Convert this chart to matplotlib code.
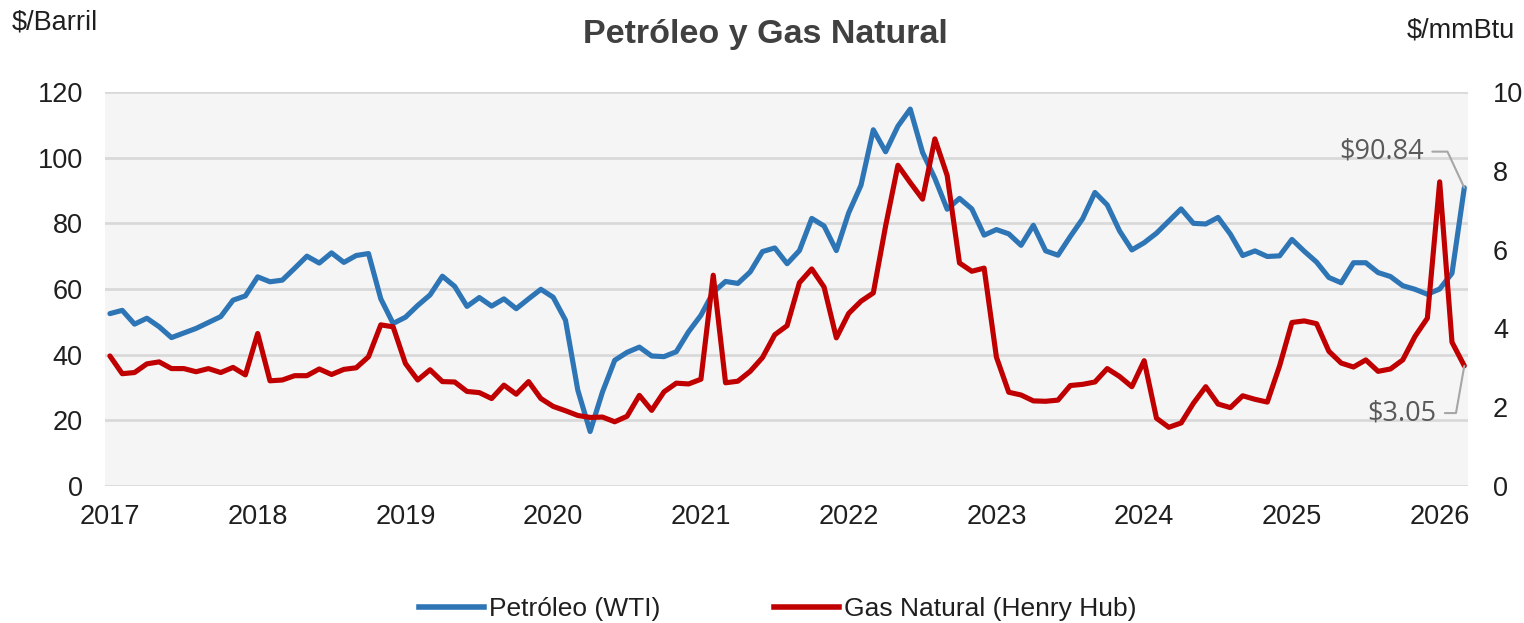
import matplotlib
matplotlib.use("Agg")
import matplotlib.pyplot as plt
from matplotlib.lines import Line2D

plt.rcParams['font.family'] = ['Liberation Sans', 'DejaVu Sans']

# ---------------- data (monthly, Jan 2017 - Mar 2026) ----------------
years = ['2017', '2018', '2019', '2020', '2021', '2022', '2023', '2024', '2025', '2026']

wti = [
    52.5, 53.5, 49.3, 51.1, 48.5, 45.2, 46.6, 48.0, 49.8, 51.6, 56.6, 57.9,   # 2017
    63.7, 62.2, 62.7, 66.3, 70.0, 67.9, 71.0, 68.1, 70.2, 70.8, 57.0, 49.5,   # 2018
    51.4, 55.0, 58.2, 63.9, 60.8, 54.7, 57.4, 54.8, 57.0, 54.0, 57.0, 59.9,   # 2019
    57.5, 50.5, 29.2, 16.6, 28.6, 38.3, 40.7, 42.3, 39.6, 39.4, 40.9, 47.0,   # 2020
    52.0, 59.0, 62.3, 61.7, 65.2, 71.4, 72.5, 67.7, 71.7, 81.5, 79.2, 71.7,   # 2021
    83.2, 91.6, 108.5, 101.8, 109.6, 114.8, 101.6, 93.7, 84.3, 87.6, 84.4, 76.4,  # 2022
    78.1, 76.8, 73.3, 79.4, 71.6, 70.3, 76.0, 81.4, 89.4, 85.6, 77.7, 71.9,   # 2023
    74.1, 77.0, 80.7, 84.4, 80.0, 79.8, 81.8, 76.7, 70.2, 71.6, 69.9, 70.1,   # 2024
    75.1, 71.5, 68.2, 63.5, 61.9, 68.0, 68.0, 65.0, 63.8, 61.0, 59.9, 58.4,   # 2025
    60.0, 64.8, 90.84,                                                        # 2026
]

henry_hub = [
    3.30, 2.85, 2.88, 3.10, 3.15, 2.98, 2.98, 2.90, 2.98, 2.88, 3.01, 2.82,   # 2017
    3.87, 2.67, 2.69, 2.80, 2.80, 2.97, 2.83, 2.96, 3.00, 3.28, 4.09, 4.04,   # 2018
    3.11, 2.69, 2.95, 2.65, 2.64, 2.40, 2.37, 2.22, 2.56, 2.33, 2.65, 2.22,   # 2019
    2.02, 1.91, 1.79, 1.74, 1.75, 1.63, 1.77, 2.30, 1.92, 2.39, 2.61, 2.59,   # 2020
    2.71, 5.35, 2.62, 2.66, 2.91, 3.26, 3.84, 4.07, 5.16, 5.51, 5.05, 3.76,   # 2021
    4.38, 4.69, 4.90, 6.60, 8.14, 7.70, 7.28, 8.81, 7.88, 5.66, 5.45, 5.53,   # 2022
    3.27, 2.38, 2.31, 2.16, 2.15, 2.18, 2.55, 2.58, 2.64, 2.98, 2.78, 2.52,   # 2023
    3.18, 1.72, 1.49, 1.60, 2.10, 2.52, 2.08, 1.99, 2.29, 2.20, 2.13, 3.05,   # 2024
    4.15, 4.19, 4.12, 3.42, 3.12, 3.02, 3.20, 2.91, 2.97, 3.20, 3.80, 4.26,   # 2025
    7.72, 3.65, 3.05,                                                         # 2026
]

wti_label = 'Petróleo (WTI)'
gas_label = 'Gas Natural (Henry Hub)'
left_ticks = [0, 20, 40, 60, 80, 100, 120]
right_ticks = [0, 2, 4, 6, 8, 10]

# ---------------- styling ----------------
blue = '#2E75B6'
red = '#C00000'
txt = '#1F1F1F'
grid_c = '#D9D9D9'

fig = plt.figure(figsize=(15.24, 6.23), dpi=100)
fig.patch.set_facecolor('white')
ax = fig.add_axes([105 / 1524, 1 - 486 / 623, (1468 - 105) / 1524, (486 - 92) / 623])
ax.set_facecolor('#F5F5F5')
ax2 = ax.twinx()

x = list(range(len(wti)))
ax.plot(x, wti, color=blue, lw=3.7, solid_capstyle='round', zorder=3)
ax2.plot(x, henry_hub, color=red, lw=3.7, solid_capstyle='round', zorder=3)

ax.set_xlim(-0.4, 110.3)
ax.set_ylim(0, 120)
ax2.set_ylim(0, 10)

ax.set_yticks(left_ticks)
ax2.set_yticks(right_ticks)
ax.set_xticks([12 * i for i in range(len(years))])
ax.set_xticklabels(years)

ax.grid(axis='y', color=grid_c, lw=2)
ax.grid(axis='x', visible=False)
ax.set_axisbelow(True)
for a in (ax, ax2):
    for s in a.spines.values():
        s.set_visible(False)

ax.tick_params(axis='x', length=0, labelsize=19.5, pad=13, colors=txt)
ax.tick_params(axis='y', length=0, labelsize=19.5, pad=16, colors=txt)
ax2.tick_params(axis='y', length=0, labelsize=19.5, pad=18, colors=txt)

# end-of-series annotations
ann_font = ['Open Sans', 'DejaVu Sans']
ax.annotate(f'${wti[-1]:.2f}', xy=(x[-1], wti[-1]), xytext=(-29, 26), textcoords='offset points',
            ha='right', va='center', fontsize=19.5, color='#595959', family=ann_font,
            arrowprops=dict(arrowstyle='-', color='#A6A6A6', lw=1.5, relpos=(1, 0.5),
                            shrinkA=4, shrinkB=0,
                            connectionstyle='angle,angleA=0,angleB=115,rad=0'))
ax2.annotate(f'${henry_hub[-1]:.2f}', xy=(x[-1], henry_hub[-1]), xytext=(-20, -34), textcoords='offset points',
             ha='right', va='center', fontsize=19.5, color='#595959', family=ann_font,
             arrowprops=dict(arrowstyle='-', color='#A6A6A6', lw=1.5, relpos=(1, 0.5),
                             shrinkA=4, shrinkB=0,
                             connectionstyle='angle,angleA=0,angleB=80,rad=0'))

# titles
fig.text(765 / 1524, 1 - 34 / 623, 'Petróleo y Gas Natural', ha='center', va='center',
         fontsize=24.5, fontweight='bold', color='#404040')
fig.text(12 / 1524, 1 - 23 / 623, '$/Barril', ha='left', va='center', fontsize=19.5, color=txt)
fig.text(1515 / 1524, 1 - 31 / 623, '$/mmBtu', ha='right', va='center', fontsize=19.5, color=txt)

# legend
handles = [Line2D([0], [0], color=blue, lw=4), Line2D([0], [0], color=red, lw=4)]
fig.legend(handles, [wti_label, gas_label], loc='center', bbox_to_anchor=(778 / 1524, 1 - 609 / 623),
           ncol=2, frameon=False, fontsize=19, handlelength=2.45, handletextpad=0.2,
           columnspacing=4.3, labelcolor=txt)

fig.savefig('out.png', dpi=100)
